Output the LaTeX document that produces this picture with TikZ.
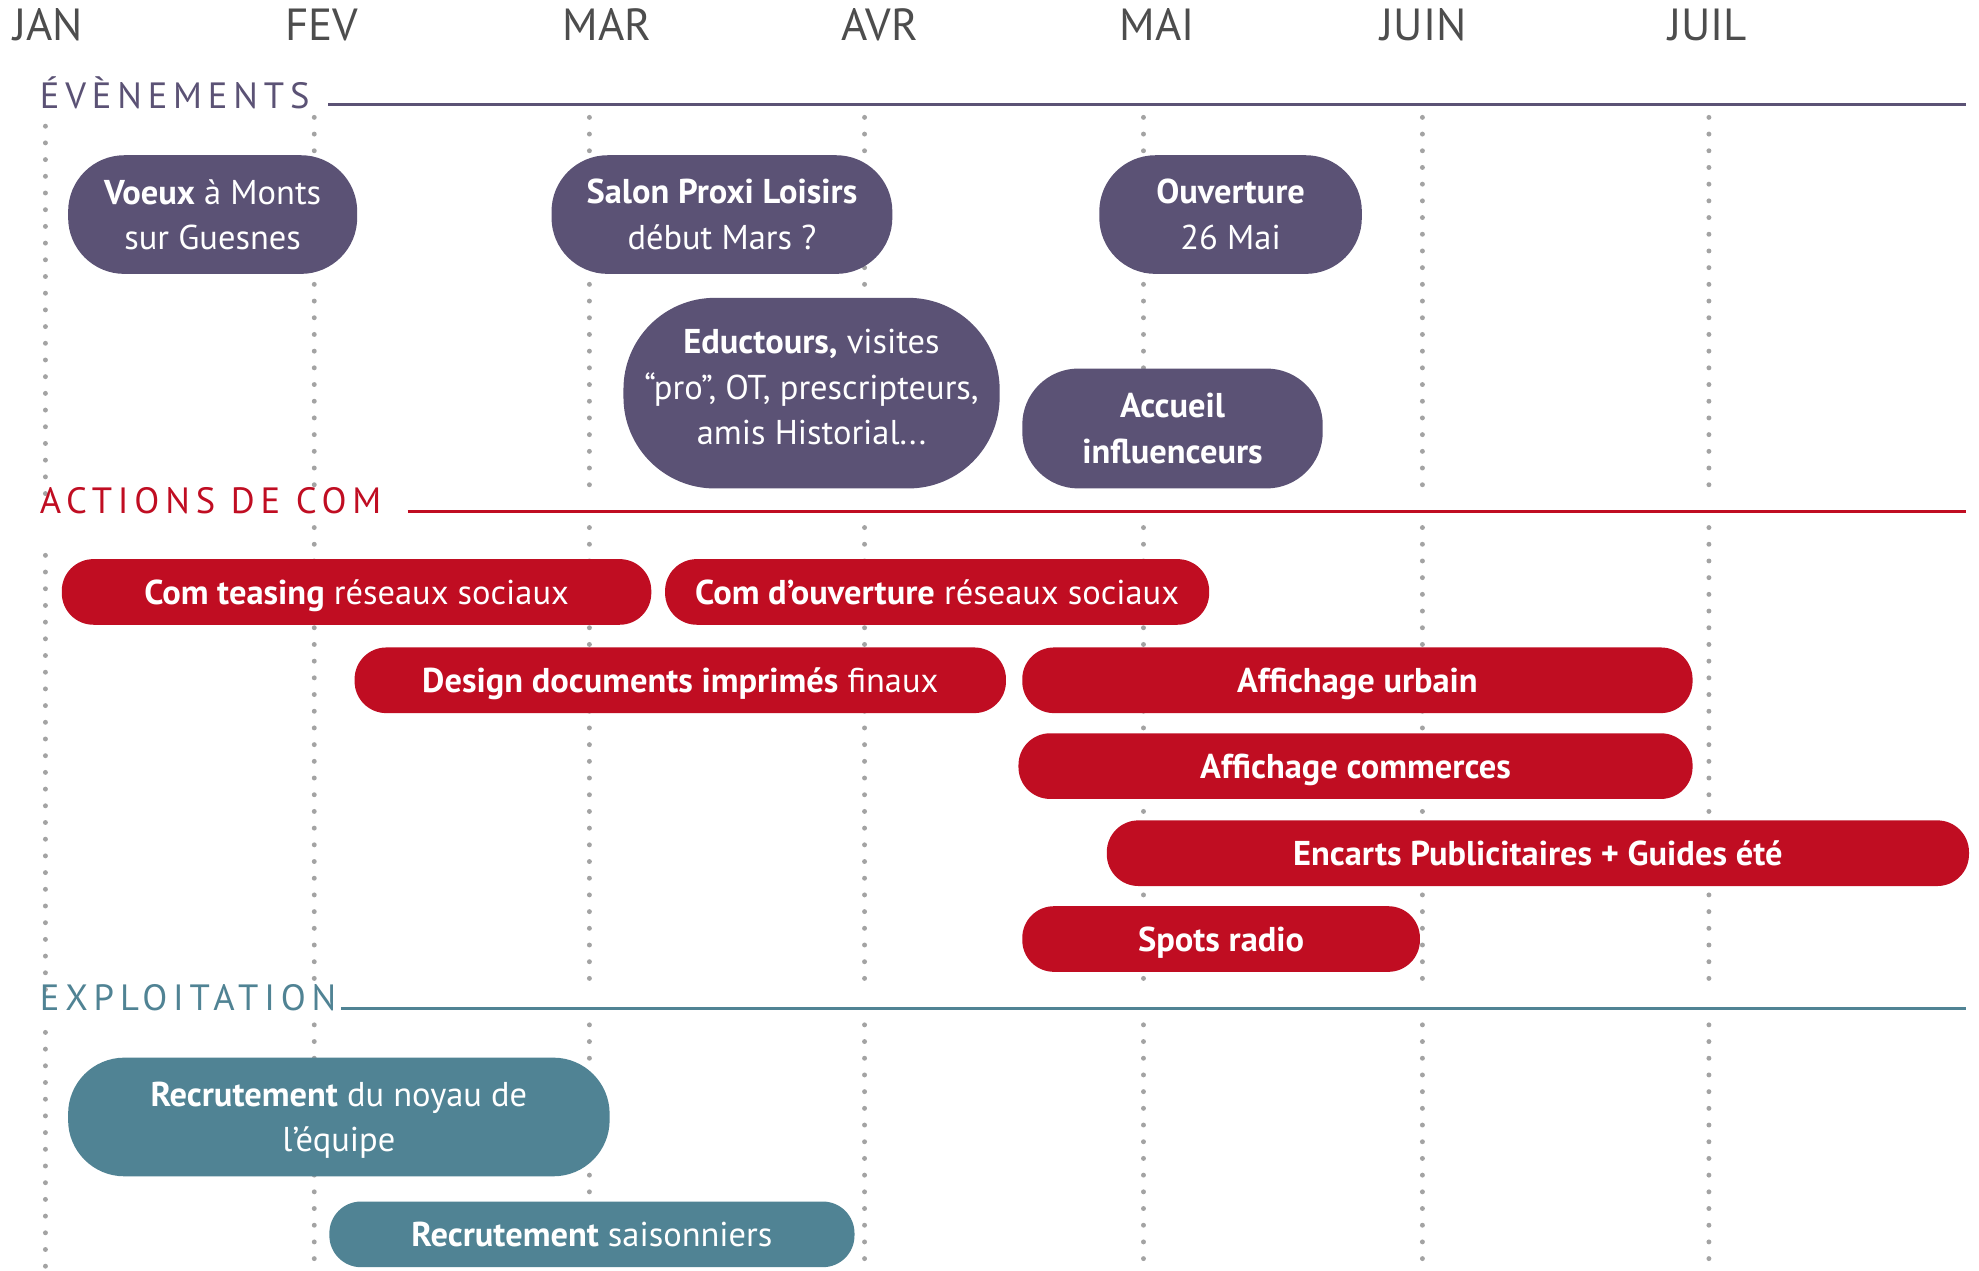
\documentclass[tikz,border=0pt]{standalone}
\usepackage{fontspec}
\setmainfont{PT Sans}
\newfontfamily\hdrfont[LetterSpace=16]{PT Sans}
\definecolor{evc}{HTML}{5B5275}
\definecolor{acc}{HTML}{C00D22}
\definecolor{exc}{HTML}{508394}
\definecolor{dotc}{HTML}{A3A3A3}
\definecolor{monc}{HTML}{4D4D4D}
\tikzset{
  month/.style={anchor=base, font=\fontsize{12.8}{14}\selectfont, text=monc},
  hdr/.style={anchor=base west, inner sep=0pt, font=\hdrfont\fontsize{10.4}{12}\selectfont},
  hline/.style={line width=0.8pt},
  dots/.style={dotc, line width=1.4pt, line cap=round, dash pattern=on 0pt off 4.75pt},
  boxbase/.style={inner sep=0pt, text=white, align=center, font=\fontsize{9.8}{12.9}\selectfont},
  oneline/.style={text height=6.9pt, text depth=0pt},
}
\newcommand\rbox[9][]{%
  \node[boxbase, #1, fill=#7, rounded corners=#8, minimum width={(#4-#3)*0.3591pt}, minimum height={(#6-#5)*0.3591pt}] (#2) at ({(#3+#4)/2},{(#5+#6)/2}) {#9};}
\begin{document}
\begin{tikzpicture}[x=0.012621cm,y=-0.012621cm]
\fill[white] (0,0) rectangle (1568,1006.3);
\useasboundingbox (0,0) rectangle (1568,1006.3);
% dotted month lines
\foreach \x/\a/\b/\c in {36/100/440/818, 249/93/418/812, 467/93/418/812, 685/93/418/812, 906/93/418/812, 1127/93/418/812, 1354/93/418/812}{
  \draw[dots] (\x,\a) -- (\x,395);
  \draw[dots] (\x,\b) -- (\x,787);
  \draw[dots] (\x,\c) -- (\x,1006);
}
% months
\node[month] (jan) at (38,32) {JAN};
\node[month] (fev) at (255,32) {FEV};
\node[month] (mar) at (481,32) {MAR};
\node[month] (avr) at (697,32) {AVR};
\node[month] (mai) at (917,32) {MAI};
\node[month] (juin) at (1128,32) {JUIN};
\node[month] (juil) at (1353,32) {JUIL};
% headers
\node[hdr, text=evc] (hev) at (31,86) {ÉVÈNEMENTS};
\draw[hline, evc] (260,83) -- (1558,83);
\node[hdr, text=acc] (hac) at (31,407) {ACTIONS DE COM};
\draw[hline, acc] (323,405) -- (1558,405);
\node[hdr, text=exc] (hex) at (31,801) {EXPLOITATION};
\draw[hline, exc] (270,799) -- (1558,799);
% events
\rbox{voeux}{54}{283}{123}{217}{evc}{16pt}{\textbf{Voeux} à Monts\\sur Guesnes}
\rbox{salon}{437}{707}{123}{217}{evc}{16pt}{\textbf{Salon Proxi Loisirs}\\début Mars ?}
\rbox{ouv}{871}{1079}{123}{217}{evc}{16pt}{\textbf{Ouverture}\\26 Mai}
\rbox[text depth=3.6pt]{educ}{494}{792}{236}{387}{evc}{26pt}{\textbf{Eductours,} visites\\“pro”, OT, prescripteurs,\\amis Historial...}
\rbox{accu}{810}{1048}{292}{387}{evc}{16pt}{\textbf{Accueil}\\\textbf{influenceurs}}
% actions
\rbox[oneline]{teas}{49}{516}{443}{495}{acc}{9pt}{\textbf{Com teasing} réseaux sociaux}
\rbox[oneline]{ouvc}{527}{958}{443}{495}{acc}{9pt}{\textbf{Com d’ouverture} réseaux sociaux}
\rbox[oneline]{design}{281}{797}{513}{565}{acc}{9pt}{\textbf{Design documents imprimés} finaux}
\rbox[oneline]{affu}{810}{1341}{513}{565}{acc}{9pt}{\textbf{Affichage urbain}}
\rbox[oneline]{affc}{807}{1341}{581}{633}{acc}{9pt}{\textbf{Affichage commerces}}
\rbox[oneline]{encarts}{877}{1560}{650}{702}{acc}{9pt}{\textbf{Encarts Publicitaires + Guides été}}
\rbox[oneline]{radio}{810}{1125}{718}{770}{acc}{9pt}{\textbf{Spots radio}}
% exploitation
\rbox[text depth=0pt]{noyau}{54}{483}{838}{932}{exc}{16pt}{\textbf{Recrutement} du noyau de\\l’équipe}
\rbox[oneline]{sais}{261}{677}{952}{1004}{exc}{9pt}{\textbf{Recrutement} saisonniers}
\end{tikzpicture}
\end{document}
